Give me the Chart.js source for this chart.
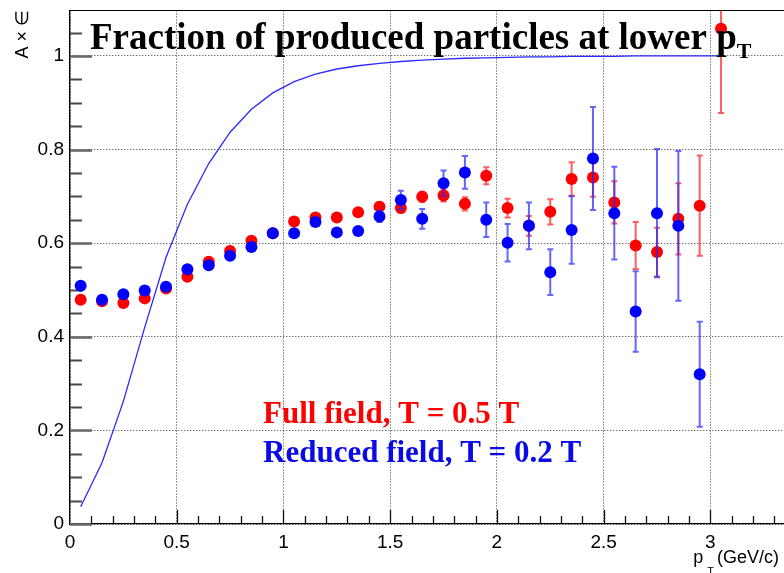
<!DOCTYPE html>
<html>
<head>
<meta charset="utf-8">
<script src="https://cdn.jsdelivr.net/npm/chart.js@4.4.0/dist/chart.umd.min.js"></script>
<style>
  html, body { margin: 0; padding: 0; background: #fff; overflow: hidden; }
</style>
</head>
<body>
<canvas id="chart" width="784" height="573"></canvas>
<script>
// pT bin centres (GeV/c)
const ptBins = [0.05, 0.15, 0.25, 0.35, 0.45, 0.55, 0.65, 0.75, 0.85, 0.95,
                1.05, 1.15, 1.25, 1.35, 1.45, 1.55, 1.65, 1.75, 1.85, 1.95,
                2.05, 2.15, 2.25, 2.35, 2.45, 2.55, 2.65, 2.75, 2.85, 2.95, 3.05];

// full field, B = 0.5 T
const fullField = [0.479, 0.476, 0.472, 0.482, 0.503, 0.528, 0.560, 0.583, 0.605, 0.621,
                   0.646, 0.655, 0.655, 0.666, 0.678, 0.675, 0.699, 0.702, 0.684, 0.744,
                   0.675, 0.637, 0.667, 0.737, 0.740, 0.687, 0.595, 0.581, 0.652, 0.680, 1.058];
const fullFieldErr = [0.005, 0.005, 0.005, 0.005, 0.005, 0.005, 0.005, 0.006, 0.006, 0.006,
                      0.006, 0.007, 0.007, 0.008, 0.009, 0.010, 0.011, 0.013, 0.014, 0.018,
                      0.020, 0.021, 0.027, 0.036, 0.041, 0.045, 0.050, 0.052, 0.076, 0.107, 0.180];

// reduced field, B = 0.2 T
const reducedField = [0.509, 0.479, 0.491, 0.499, 0.507, 0.544, 0.553, 0.573, 0.592, 0.621,
                      0.621, 0.645, 0.623, 0.626, 0.657, 0.692, 0.652, 0.728, 0.751, 0.650,
                      0.601, 0.637, 0.538, 0.628, 0.781, 0.664, 0.454, 0.664, 0.637, 0.320, null];
const reducedFieldErr = [0.005, 0.005, 0.005, 0.005, 0.005, 0.005, 0.005, 0.006, 0.006, 0.006,
                         0.007, 0.007, 0.008, 0.008, 0.012, 0.020, 0.021, 0.027, 0.035, 0.037,
                         0.040, 0.050, 0.049, 0.072, 0.110, 0.099, 0.086, 0.137, 0.160, 0.112, null];

// acceptance x efficiency curve
const accEff = [0.037, 0.131, 0.262, 0.420, 0.570, 0.683, 0.770, 0.837, 0.886, 0.921,
                0.945, 0.961, 0.972, 0.979, 0.984, 0.988, 0.991, 0.993, 0.995, 0.996,
                0.997, 0.998, 0.998, 0.999, 0.999, 0.999, 1.000, 1.000, 1.000, 1.000, 1.000];

const xTickLabels = [0, 0.5, 1, 1.5, 2, 2.5, 3];
const yTickLabels = [0, 0.2, 0.4, 0.6, 0.8, 1];

const SANS = '"Liberation Sans", Arial, Helvetica, sans-serif';
const SERIF = '"Liberation Serif", "Times New Roman", serif';

function toPoints(vals) {
  return ptBins.map((x, i) => ({ x: x, y: vals[i] })).filter(p => p.y !== null);
}

function fmt(v) {
  return String(Math.round(v * 10) / 10);
}

// fixed axis sizes, no extra room for the end labels
function fixSize(s, w, h) {
  if (w) s.width = w;
  if (h) s.height = h;
  s.paddingTop = 0;
  s.paddingBottom = 0;
  s.paddingLeft = 0;
  s.paddingRight = 0;
}

function drawErrors(chart, vals, errs, color) {
  const { ctx, chartArea: a, scales: { x, y } } = chart;
  ctx.save();
  ctx.beginPath();
  ctx.rect(a.left, a.top, a.right - a.left, a.bottom - a.top);
  ctx.clip();
  ctx.strokeStyle = color;
  ctx.lineWidth = 2;
  ptBins.forEach((p, i) => {
    if (vals[i] === null) return;
    const px = x.getPixelForValue(p);
    const hi = y.getPixelForValue(vals[i] + errs[i]);
    const lo = y.getPixelForValue(vals[i] - errs[i]);
    ctx.beginPath();
    ctx.moveTo(px, hi); ctx.lineTo(px, lo);
    ctx.moveTo(px - 3, hi); ctx.lineTo(px + 3, hi);
    ctx.moveTo(px - 3, lo); ctx.lineTo(px + 3, lo);
    ctx.stroke();
  });
  ctx.restore();
}

const frame = {
  id: 'frame',
  beforeDatasetsDraw(chart) {
    const { ctx, chartArea: a, scales: { x, y } } = chart;
    ctx.save();
    // top edge of the frame
    ctx.strokeStyle = '#000';
    ctx.lineWidth = 1.2;
    ctx.beginPath();
    ctx.moveTo(a.left, a.top); ctx.lineTo(a.right, a.top);
    ctx.stroke();

    // y ticks, drawn inward
    for (let k = 0; k <= 21; k++) {
      const v = k * 0.05;
      const py = Math.round(y.getPixelForValue(v)) + 0.5;
      const major = k % 4 === 0;
      ctx.strokeStyle = major ? '#6a6a6a' : '#4a4a4a';
      ctx.lineWidth = major ? 2.6 : 2;
      ctx.beginPath();
      ctx.moveTo(a.left, py); ctx.lineTo(a.left + (major ? 22 : 12), py);
      ctx.stroke();
    }
    // x ticks, drawn inward
    ctx.strokeStyle = '#111';
    ctx.lineWidth = 1.3;
    for (let k = 1; k <= 33; k++) {
      const px = Math.round(x.getPixelForValue(k * 0.1)) + 0.5;
      const major = k % 5 === 0;
      ctx.beginPath();
      ctx.moveTo(px, a.bottom); ctx.lineTo(px, a.bottom - (major ? 14 : 8));
      ctx.stroke();
    }
    ctx.restore();
  },
  beforeDatasetDraw(chart, args) {
    if (args.index === 0) drawErrors(chart, reducedField, reducedFieldErr, 'rgba(40, 40, 255, 0.72)');
    if (args.index === 1) drawErrors(chart, fullField, fullFieldErr, 'rgba(255, 40, 40, 0.75)');
  },
  afterDraw(chart) {
    const ctx = chart.ctx;
    ctx.save();
    ctx.textBaseline = 'alphabetic';
    ctx.textAlign = 'left';

    // title
    ctx.fillStyle = '#000';
    ctx.font = 'bold 37px ' + SERIF;
    const t = 'Fraction of produced particles at lower p';
    ctx.fillText(t, 90, 49);
    const tw = ctx.measureText(t).width;
    ctx.font = 'bold 22px ' + SERIF;
    ctx.fillText('T', 90 + tw, 58);

    // field labels
    ctx.font = 'bold 31px ' + SERIF;
    ctx.fillStyle = '#ff0000';
    ctx.fillText('Full field, T = 0.5 T', 263, 423);
    ctx.fillStyle = '#0a0ae6';
    ctx.fillText('Reduced field, T = 0.2 T', 263, 462);

    // x axis title: p_T (GeV/c), right aligned
    ctx.fillStyle = '#000';
    ctx.textAlign = 'right';
    ctx.font = '18px ' + SANS;
    const unit = '(GeV/c)';
    const uw = ctx.measureText(unit).width;
    ctx.fillText(unit, 779, 563);
    ctx.font = '11px ' + SANS;
    const subRight = 779 - uw - 3;
    const sw = ctx.measureText('T').width;
    ctx.fillText('T', subRight, 575);
    ctx.font = '18px ' + SANS;
    ctx.fillText('p', subRight - sw - 4, 563);

    // y axis title
    ctx.translate(23, 10);
    ctx.rotate(-Math.PI / 2);
    ctx.textAlign = 'right';
    ctx.textBaseline = 'middle';
    ctx.font = '18px ' + SANS;
    ctx.fillText('A \u00d7 \u2208', 0, 0);
    ctx.restore();
  }
};

const ctx = document.getElementById('chart').getContext('2d');
new Chart(ctx, {
  type: 'scatter',
  data: {
    datasets: [
      {
        label: 'Reduced field',
        data: toPoints(reducedField),
        pointRadius: 6,
        pointBackgroundColor: '#0000ff',
        pointBorderWidth: 0,
        pointBorderColor: '#0000ff'
      },
      {
        label: 'Full field',
        data: toPoints(fullField),
        pointRadius: 6,
        pointBackgroundColor: '#ff0000',
        pointBorderWidth: 0,
        pointBorderColor: '#ff0000'
      },
      {
        label: 'A x eff',
        type: 'line',
        data: toPoints(accEff),
        borderColor: '#2a2aff',
        borderWidth: 1.3,
        pointRadius: 0,
        tension: 0,
        fill: false
      }
    ]
  },
  options: {
    responsive: false,
    animation: false,
    devicePixelRatio: 1,
    layout: { autoPadding: false, padding: { top: 10.5, left: 0, right: 0, bottom: 0 } },
    plugins: {
      legend: { display: false },
      tooltip: { enabled: false }
    },
    scales: {
      x: {
        type: 'linear',
        min: 0,
        max: 3.345,
        afterBuildTicks: s => { s.ticks = xTickLabels.map(v => ({ value: v })); },
        afterFit: s => fixSize(s, 0, 49),
        grid: { color: '#333', lineWidth: 1, drawTicks: false },
        border: { color: '#000', width: 1.3, dash: [1, 2] },
        ticks: {
          padding: 7,
          color: '#000',
          maxRotation: 0,
          font: { family: SANS, size: 19 },
          callback: v => fmt(v)
        }
      },
      y: {
        type: 'linear',
        min: 0,
        max: 1.097,
        afterBuildTicks: s => { s.ticks = yTickLabels.map(v => ({ value: v })); },
        afterFit: s => fixSize(s, 70, 0),
        grid: { color: '#333', lineWidth: 1, drawTicks: false },
        border: { color: '#000', width: 1.3, dash: [1, 2] },
        ticks: {
          padding: 6,
          color: '#000',
          font: { family: SANS, size: 19 },
          callback: v => fmt(v)
        }
      }
    }
  },
  plugins: [frame]
});
</script>
</body>
</html>
